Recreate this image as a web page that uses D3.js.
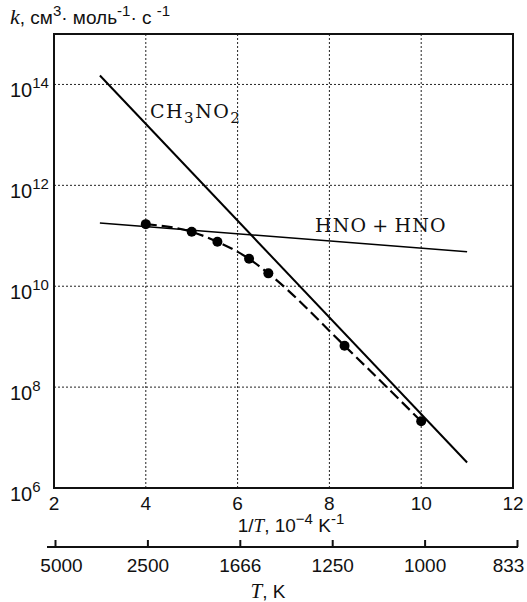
<!DOCTYPE html>
<html><head><meta charset="utf-8">
<script src="https://cdn.jsdelivr.net/npm/d3@7"></script>
<style>body{margin:0;background:#fff}svg{display:block}</style>
</head><body>
<script>
// Data (1/T in 10^-4 K^-1, k in cm3 mol-1 s-1)
const ch3no2X = [3.0, 11.0];
const ch3no2K = [1.5e14, 3.2e6];
const hnoX = [3.0, 11.0];
const hnoK = [1.8e11, 4.8e10];
const pointX = [4.0, 5.0, 5.56, 6.25, 6.67, 8.33, 10.0];
const pointK = [1.7e11, 1.2e11, 7.6e10, 3.5e10, 1.8e10, 6.6e8, 2.1e7];
const xTicks = [2, 4, 6, 8, 10, 12];
const yTicks = [1e6, 1e8, 1e10, 1e12, 1e14];
const yTickExp = ["6", "8", "10", "12", "14"];
const tTicks = [2, 4, 6, 8, 10, 12];
const tLabels = ["5000", "2500", "1666", "1250", "1000", "833"];

const W = 527, H = 602;
const L = 54, R = 513, T = 34, B = 488;
const svg = d3.select("body").append("svg").attr("width", W).attr("height", H);
const x = d3.scaleLinear().domain([2, 12]).range([L, R]);
const y = d3.scaleLog().domain([1e6, 1e15]).range([B, T]);
const xT = d3.scaleLinear().domain([2, 12]).range([55, 517]);
const sans = "'Liberation Sans', Arial, sans-serif";
const serif = "'Liberation Serif', 'Times New Roman', serif";
const labelSerif = "'DejaVu Serif', serif";

// gridlines
const g = svg.append("g");
g.selectAll(".vg").data(xTicks.slice(1, -1)).join("line")
  .attr("x1", d => x(d)).attr("x2", d => x(d)).attr("y1", T).attr("y2", B)
  .attr("stroke", "#222").attr("stroke-width", 1).attr("stroke-dasharray", "2,2");
g.selectAll(".hg").data(yTicks.slice(1)).join("line")
  .attr("y1", d => y(d)).attr("y2", d => y(d)).attr("x1", L).attr("x2", R)
  .attr("stroke", "#222").attr("stroke-width", 1).attr("stroke-dasharray", "2,2");

// frame
svg.append("rect").attr("x", L).attr("y", T).attr("width", R - L).attr("height", B - T)
  .attr("fill", "none").attr("stroke", "#111").attr("stroke-width", 2);

// lines
const line = d3.line().x(d => x(d[0])).y(d => y(d[1]));
svg.append("path").datum(d3.zip(ch3no2X, ch3no2K)).attr("d", line)
  .attr("fill", "none").attr("stroke", "#000").attr("stroke-width", 2);
svg.append("path").datum(d3.zip(hnoX, hnoK)).attr("d", line)
  .attr("fill", "none").attr("stroke", "#000").attr("stroke-width", 1.5);
const curve = d3.line().x(d => x(d[0])).y(d => y(d[1])).curve(d3.curveMonotoneX);
svg.append("path").datum(d3.zip(pointX, pointK)).attr("d", curve)
  .attr("fill", "none").attr("stroke", "#000").attr("stroke-width", 2.2).attr("stroke-dasharray", "11,5");
svg.selectAll(".pt").data(d3.zip(pointX, pointK)).join("circle")
  .attr("cx", d => x(d[0])).attr("cy", d => y(d[1])).attr("r", 5).attr("fill", "#000");

// y tick labels
const yl = svg.selectAll(".yl").data(yTicks).join("text")
  .attr("x", 10).attr("y", d => y(d) + 13).attr("font-family", sans).attr("font-size", 20).attr("fill", "#111");
yl.append("tspan").text("10");
yl.append("tspan").attr("dy", -9).attr("font-size", 15).text((d, i) => yTickExp[i]);

// x tick labels (top axis)
svg.selectAll(".xl").data(xTicks).join("text")
  .attr("x", d => x(d)).attr("y", 510).attr("text-anchor", "middle")
  .attr("font-family", sans).attr("font-size", 19).attr("fill", "#111").text(d => d);

// x axis title
const xt = svg.append("text").attr("x", 291).attr("y", 532).attr("text-anchor", "middle")
  .attr("font-family", sans).attr("font-size", 19).attr("fill", "#111");
xt.append("tspan").text("1/");
xt.append("tspan").attr("font-family", serif).attr("font-style", "italic").text("T");
xt.append("tspan").text(", 10");
xt.append("tspan").attr("dy", -8).attr("font-size", 15).text("\u22124");
xt.append("tspan").attr("dy", 8).text(" K");
xt.append("tspan").attr("dy", -8).attr("font-size", 15).text("-1");

// T axis (bottom)
const tAxis = d3.axisTop(xT).tickValues(tTicks).tickFormat((d, i) => tLabels[i]).tickSize(7).tickSizeOuter(0);
const ta = svg.append("g").attr("transform", "translate(0,547)").call(tAxis);
ta.select(".domain").attr("d", "M47,0H518").attr("stroke", "#111").attr("stroke-width", 2);
ta.selectAll(".tick line").attr("stroke", "#111").attr("stroke-width", 2);
ta.selectAll(".tick text").attr("y", 25).attr("dy", 0).attr("font-family", sans).attr("font-size", 19).attr("fill", "#111")
  .attr("x", (d, i) => i === 0 ? 6 : (i === tTicks.length - 1 ? -9 : 0));

const tt = svg.append("text").attr("x", 268).attr("y", 598).attr("text-anchor", "middle")
  .attr("font-family", sans).attr("font-size", 19).attr("fill", "#111");
tt.append("tspan").attr("font-family", serif).attr("font-style", "italic").attr("font-size", 21).text("T");
tt.append("tspan").text(", K");

// y axis title
const yt = svg.append("text").attr("x", 10).attr("y", 24).attr("font-family", sans).attr("font-size", 19).attr("fill", "#111");
yt.append("tspan").attr("font-family", serif).attr("font-style", "italic").attr("font-size", 22).text("k");
yt.append("tspan").text(", см");
yt.append("tspan").attr("dy", -8).attr("font-size", 15).text("3");
yt.append("tspan").attr("dy", 8).text("· моль");
yt.append("tspan").attr("dy", -8).attr("font-size", 15).text("-1");
yt.append("tspan").attr("dy", 8).text("· с ");
yt.append("tspan").attr("dy", -8).attr("font-size", 15).text("-1");

// series labels
const c1 = svg.append("text").attr("x", 150).attr("y", 118).attr("font-family", labelSerif).attr("font-size", 19)
  .attr("letter-spacing", 1.5).attr("fill", "#111");
c1.append("tspan").text("CH");
c1.append("tspan").attr("dy", 5).attr("font-size", 15).text("3");
c1.append("tspan").attr("dy", -5).text("NO");
c1.append("tspan").attr("dy", 5).attr("font-size", 15).text("2");
svg.append("text").attr("x", 315).attr("y", 232).attr("font-family", labelSerif).attr("font-size", 19)
  .attr("letter-spacing", 1.2).attr("fill", "#111").text("HNO\u2009+\u2009HNO");
</script>
</body></html>
